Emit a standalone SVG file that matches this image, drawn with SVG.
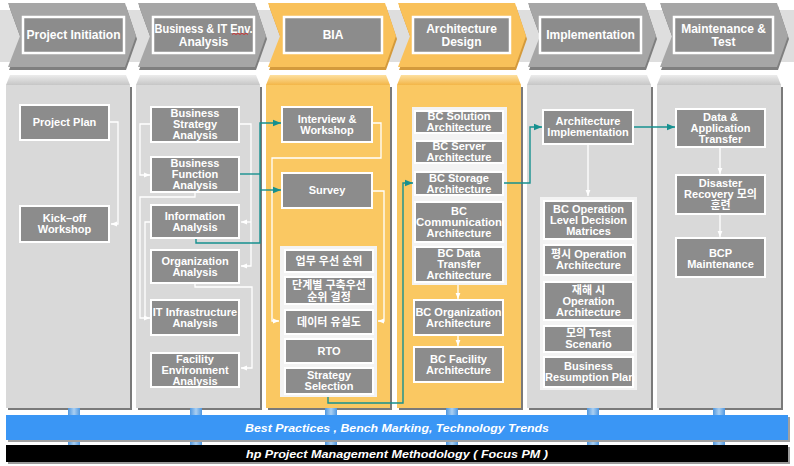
<svg xmlns="http://www.w3.org/2000/svg" width="794" height="466" viewBox="0 0 794 466">
<defs>
<style>
.hdr{font-family:"Liberation Sans","Noto Sans CJK KR",sans-serif;font-size:12px;font-weight:bold;fill:#fff;text-anchor:middle}
.t{font-family:"Liberation Sans","Noto Sans CJK KR",sans-serif;font-size:11px;font-weight:bold;fill:#fff;text-anchor:middle}
.nd{fill:#8c8c8c;stroke:#fff;stroke-width:2}
.hb{fill:#8c8c8c;stroke:#fff;stroke-width:2.5}
.cg{fill:#a6a6a6}
.co{fill:#f9c15a}
.cgs{fill:#7f7f7f}
.cos{fill:#d49a3c}
.pg{fill:#d9d9d9}
.po{fill:#fac862}
.psh{fill:#7a7a7a}
.box{fill:#f3f3f3}
.wl{fill:none;stroke:#fff;stroke-width:1.3}
.tl{fill:none;stroke:#16908f;stroke-width:1.4}
.tab{fill:url(#gtab)}
.band{font-family:"Liberation Sans Narrow","Liberation Sans",sans-serif;font-size:11px;font-style:italic;font-weight:bold;fill:#fff;text-anchor:middle}
</style>
<linearGradient id="gbev" x1="0" y1="0" x2="0" y2="1"><stop offset="0" stop-color="#ececec"/><stop offset="1" stop-color="#c6c6c6"/></linearGradient>
<linearGradient id="obev" x1="0" y1="0" x2="0" y2="1"><stop offset="0" stop-color="#fde0a0"/><stop offset="1" stop-color="#f3b648"/></linearGradient>
<linearGradient id="gtab" x1="0" y1="0" x2="1" y2="0"><stop offset="0" stop-color="#4f97e0"/><stop offset="0.5" stop-color="#a9cff2"/><stop offset="1" stop-color="#4f97e0"/></linearGradient>
<marker id="aw" viewBox="0 0 10 10" refX="10" refY="5" markerWidth="6" markerHeight="6" markerUnits="userSpaceOnUse" orient="auto"><path d="M0,1 L10,5 L0,9 z" fill="#fff"/></marker>
<marker id="at" viewBox="0 0 10 10" refX="10" refY="5" markerWidth="8" markerHeight="8" markerUnits="userSpaceOnUse" orient="auto"><path d="M0,1 L10,5 L0,9 z" fill="#16908f"/></marker>
</defs>
<rect width="794" height="466" fill="#fff"/>
<!-- header band -->
<rect x="0" y="10" width="794" height="52" fill="#dedede"/>

<!-- chevrons -->
<g id="headers">
<g id="h1">
<polygon class="cgs" points="9,6 126,6 137,39 126,70 9,70 21,39"/>
<polygon class="cg" points="8,3 125,3 136,36 125,67 8,67 20,36"/>
<rect class="hb" x="23" y="17" width="101" height="36"/>
<text class="hdr" x="73.5" y="39.2">Project Initiation</text>
</g>
<g id="h2">
<polygon class="cgs" points="139,6 256,6 267,39 256,70 139,70 151,39"/>
<polygon class="cg" points="138,3 255,3 266,36 255,67 138,67 150,36"/>
<rect class="hb" x="153" y="17" width="101" height="36"/>
<text class="hdr" x="203.5" y="32.7" textLength="98" lengthAdjust="spacingAndGlyphs">Business &amp; IT Env.</text>
<text class="hdr" x="203.5" y="45.7">Analysis</text>
<path d="M232,34.5 l2,-1.2 l2,1.2 l2,-1.2 l2,1.2 l2,-1.2 l2,1.2 l2,-1.2 l2,1.2" fill="none" stroke="#e02020" stroke-width="0.8"/>
</g>
<g id="h3">
<polygon class="cos" points="269,6 386,6 397,39 386,70 269,70 281,39"/>
<polygon class="co" points="268,3 385,3 396,36 385,67 268,67 280,36"/>
<rect class="hb" x="284" y="17" width="98" height="36"/>
<text class="hdr" x="333" y="39.2">BIA</text>
</g>
<g id="h4">
<polygon class="cos" points="399,6 516,6 527,39 516,70 399,70 411,39"/>
<polygon class="co" points="398,3 515,3 526,36 515,67 398,67 410,36"/>
<rect class="hb" x="413" y="17" width="97" height="36"/>
<text class="hdr" x="461.5" y="32.7">Architecture</text>
<text class="hdr" x="461.5" y="45.7">Design</text>
</g>
<g id="h5">
<polygon class="cgs" points="529,6 646,6 657,39 646,70 529,70 541,39"/>
<polygon class="cg" points="528,3 645,3 656,36 645,67 528,67 540,36"/>
<rect class="hb" x="540" y="17" width="101" height="36"/>
<text class="hdr" x="590.5" y="39.2">Implementation</text>
</g>
<g id="h6">
<polygon class="cgs" points="661,6 778,6 789,39 778,70 661,70 673,39"/>
<polygon class="cg" points="660,3 777,3 788,36 777,67 660,67 672,36"/>
<rect class="hb" x="674" y="17" width="99" height="36"/>
<text class="hdr" x="723.5" y="32.7">Maintenance &amp;</text>
<text class="hdr" x="723.5" y="45.7">Test</text>
</g>
</g>

<!-- panels -->
<g id="panels">
<rect class="psh" x="8" y="87" width="124" height="323"/>
<rect class="pg" x="6" y="85" width="124" height="323"/>
<polygon points="10,75 126,75 130,85 6,85" fill="url(#gbev)"/>
<rect class="psh" x="138" y="87" width="124" height="323"/>
<rect class="pg" x="136" y="85" width="124" height="323"/>
<polygon points="140,75 256,75 260,85 136,85" fill="url(#gbev)"/>
<rect class="psh" x="268" y="87" width="124" height="323"/>
<rect class="po" x="266" y="85" width="124" height="323"/>
<polygon points="270,75 386,75 390,85 266,85" fill="url(#obev)"/>
<rect class="psh" x="399" y="87" width="124" height="323"/>
<rect class="po" x="397" y="85" width="124" height="323"/>
<polygon points="401,75 517,75 521,85 397,85" fill="url(#obev)"/>
<rect class="psh" x="529" y="87" width="124" height="323"/>
<rect class="pg" x="527" y="85" width="124" height="323"/>
<polygon points="531,75 647,75 651,85 527,85" fill="url(#gbev)"/>
<rect class="psh" x="659" y="87" width="124" height="323"/>
<rect class="pg" x="657" y="85" width="124" height="323"/>
<polygon points="661,75 777,75 781,85 657,85" fill="url(#gbev)"/>
</g>

<!-- containers -->
<rect class="box" x="280" y="246" width="97" height="151"/>
<rect class="box" x="412" y="107" width="95" height="178"/>
<rect class="box" x="540" y="197" width="97" height="193"/>

<!-- connectors -->
<g id="connectors">
<path class="wl" d="M110,122 H118 V224 H111" marker-end="url(#aw)"/>
<path class="wl" d="M151,124 H140 V175 H150" marker-end="url(#aw)"/>
<path class="wl" d="M240,124 H251 V266 H241" marker-end="url(#aw)"/>
<path class="wl" d="M251,222 H241" marker-end="url(#aw)"/>
<path class="wl" d="M195,192 V197 H140 V318 H150" marker-end="url(#aw)"/>
<path class="wl" d="M151,222 H145 V318"/>
<path class="wl" d="M195,283 V287 H252 V368 H241" marker-end="url(#aw)"/>
<path class="wl" d="M372,123 H381 V158 H272 V321 H279" marker-end="url(#aw)"/>
<path class="wl" d="M372,191 H384 V321 H378" marker-end="url(#aw)"/>
<path class="wl" d="M458,285 V299" marker-end="url(#aw)"/>
<path class="wl" d="M458,335 V346" marker-end="url(#aw)"/>
<path class="wl" d="M588,144 V196" marker-end="url(#aw)"/>
<path class="wl" d="M720,147 V174" marker-end="url(#aw)"/>
<path class="wl" d="M720,214 V237" marker-end="url(#aw)"/>
<path class="tl" d="M240,174 H260"/>
<path class="tl" d="M196,238 V243 H260 V123 H281" marker-end="url(#at)"/>
<path class="tl" d="M260,190 H281" marker-end="url(#at)"/>
<path class="tl" d="M328,397 V403 H403 V183 H413" marker-end="url(#at)"/>
<path class="tl" d="M504,183 H530 V127 H542" marker-end="url(#at)"/>
<path class="tl" d="M634,127 H675" marker-end="url(#at)"/>
</g>

<!-- column 1 -->
<g id="n-project-plan"><rect class="nd" x="20" y="105" width="89" height="35"/><text class="t" x="64.5" y="126.3">Project Plan</text></g>
<g id="n-kickoff"><rect class="nd" x="20" y="206" width="89" height="36"/><text class="t" x="64.5" y="222.3">Kick–off</text><text class="t" x="64.5" y="233.3">Workshop</text></g>

<!-- column 2 -->
<g id="n-bsa"><rect class="nd" x="151" y="107" width="88" height="35"/><text class="t" x="195" y="117.3">Business</text><text class="t" x="195" y="128.3">Strategy</text><text class="t" x="195" y="139.3">Analysis</text></g>
<g id="n-bfa"><rect class="nd" x="151" y="157" width="88" height="35"/><text class="t" x="195" y="167.3">Business</text><text class="t" x="195" y="178.3">Function</text><text class="t" x="195" y="189.3">Analysis</text></g>
<g id="n-ia"><rect class="nd" x="151" y="205" width="88" height="33"/><text class="t" x="195" y="219.8">Information</text><text class="t" x="195" y="230.8">Analysis</text></g>
<g id="n-oa"><rect class="nd" x="151" y="250" width="88" height="33"/><text class="t" x="195" y="264.8">Organization</text><text class="t" x="195" y="275.8">Analysis</text></g>
<g id="n-ita"><rect class="nd" x="151" y="300" width="88" height="35"/><text class="t" x="195" y="315.8">IT Infrastructure</text><text class="t" x="195" y="326.8">Analysis</text></g>
<g id="n-fea"><rect class="nd" x="151" y="353" width="88" height="34"/><text class="t" x="195" y="362.8">Facility</text><text class="t" x="195" y="373.8">Environment</text><text class="t" x="195" y="384.8">Analysis</text></g>

<!-- column 3 -->
<g id="n-iw"><rect class="nd" x="282" y="107" width="90" height="35"/><text class="t" x="327" y="122.8">Interview &amp;</text><text class="t" x="327" y="133.8">Workshop</text></g>
<g id="n-survey"><rect class="nd" x="282" y="173" width="90" height="35"/><text class="t" x="327" y="194.3">Survey</text></g>
<g id="n-p1"><rect class="nd" x="285" y="250" width="88" height="22"/><text class="t" x="329" y="264.8">업무 우선 순위</text></g>
<g id="n-p2"><rect class="nd" x="285" y="277" width="88" height="27"/><text class="t" x="329" y="289">단계별 구축우선</text><text class="t" x="329" y="300.5">순위 결정</text></g>
<g id="n-p3"><rect class="nd" x="285" y="310" width="88" height="24"/><text class="t" x="329" y="325.8">데이터 유실도</text></g>
<g id="n-p4"><rect class="nd" x="285" y="339" width="88" height="24"/><text class="t" x="329" y="354.8">RTO</text></g>
<g id="n-p5"><rect class="nd" x="285" y="368" width="88" height="26"/><text class="t" x="329" y="379.3">Strategy</text><text class="t" x="329" y="390.3">Selection</text></g>

<!-- column 4 -->
<g id="n-a1"><rect class="nd" x="415" y="111" width="88" height="22"/><text class="t" x="459" y="120.3">BC Solution</text><text class="t" x="459" y="131.3">Architecture</text></g>
<g id="n-a2"><rect class="nd" x="415" y="141" width="88" height="22"/><text class="t" x="459" y="150.3">BC Server</text><text class="t" x="459" y="161.3">Architecture</text></g>
<g id="n-a3"><rect class="nd" x="415" y="172" width="88" height="23"/><text class="t" x="459" y="181.8">BC Storage</text><text class="t" x="459" y="192.8">Architecture</text></g>
<g id="n-a4"><rect class="nd" x="415" y="202" width="88" height="40"/><text class="t" x="459" y="214.8">BC</text><text class="t" x="459" y="225.8" textLength="86" lengthAdjust="spacingAndGlyphs">Communication</text><text class="t" x="459" y="236.8">Architecture</text></g>
<g id="n-a5"><rect class="nd" x="415" y="247" width="88" height="35"/><text class="t" x="459" y="257.3">BC Data</text><text class="t" x="459" y="268.3">Transfer</text><text class="t" x="459" y="279.3">Architecture</text></g>
<g id="n-a6"><rect class="nd" x="414" y="300" width="89" height="35"/><text class="t" x="458.5" y="315.8">BC Organization</text><text class="t" x="458.5" y="326.8">Architecture</text></g>
<g id="n-a7"><rect class="nd" x="414" y="347" width="89" height="35"/><text class="t" x="458.5" y="362.8">BC Facility</text><text class="t" x="458.5" y="373.8">Architecture</text></g>

<!-- column 5 -->
<g id="n-ai"><rect class="nd" x="543" y="110" width="90" height="34"/><text class="t" x="588" y="125.3">Architecture</text><text class="t" x="588" y="136.3">Implementation</text></g>
<g id="n-o1"><rect class="nd" x="544" y="201" width="89" height="38"/><text class="t" x="588.5" y="212.8">BC Operation</text><text class="t" x="588.5" y="223.8">Level Decision</text><text class="t" x="588.5" y="234.8">Matrices</text></g>
<g id="n-o2"><rect class="nd" x="544" y="245" width="89" height="30"/><text class="t" x="588.5" y="258.3">평시 Operation</text><text class="t" x="588.5" y="269.3">Architecture</text></g>
<g id="n-o3"><rect class="nd" x="544" y="282" width="89" height="38"/><text class="t" x="588.5" y="293.8">재해 시</text><text class="t" x="588.5" y="304.8">Operation</text><text class="t" x="588.5" y="315.8">Architecture</text></g>
<g id="n-o4"><rect class="nd" x="544" y="326" width="89" height="26"/><text class="t" x="588.5" y="337.3">모의 Test</text><text class="t" x="588.5" y="348.3">Scenario</text></g>
<g id="n-o5"><rect class="nd" x="544" y="357" width="89" height="30"/><text class="t" x="588.5" y="370.3">Business</text><text class="t" x="590" y="381.3">Resumption Plan</text></g>

<!-- column 6 -->
<g id="n-m1"><rect class="nd" x="676" y="109" width="89" height="38"/><text class="t" x="720.5" y="120.8">Data &amp;</text><text class="t" x="720.5" y="131.8">Application</text><text class="t" x="720.5" y="142.8">Transfer</text></g>
<g id="n-m2"><rect class="nd" x="676" y="175" width="89" height="39"/><text class="t" x="720.5" y="187.3">Disaster</text><text class="t" x="720.5" y="198.3">Recovery 모의</text><text class="t" x="720.5" y="209.3">훈련</text></g>
<g id="n-m3"><rect class="nd" x="676" y="238" width="89" height="39"/><text class="t" x="720.5" y="256.8">BCP</text><text class="t" x="720.5" y="267.8">Maintenance</text></g>

<!-- bottom bands -->
<g id="tabs">
<rect class="tab" x="68" y="408" width="12" height="8"/><rect class="tab" x="190" y="408" width="12" height="8"/><rect class="tab" x="325" y="408" width="12" height="8"/><rect class="tab" x="446" y="408" width="12" height="8"/><rect class="tab" x="587" y="408" width="12" height="8"/><rect class="tab" x="713" y="408" width="12" height="8"/>
<rect class="tab" x="68" y="439" width="12" height="7"/><rect class="tab" x="190" y="439" width="12" height="7"/><rect class="tab" x="325" y="439" width="12" height="7"/><rect class="tab" x="446" y="439" width="12" height="7"/><rect class="tab" x="587" y="439" width="12" height="7"/><rect class="tab" x="713" y="439" width="12" height="7"/>
</g>
<g id="band-best">
<rect x="8" y="417" width="782" height="25" fill="#a0a0a0"/>
<rect x="6" y="415" width="782" height="25" fill="#3a96f5"/>
<text class="band" x="397" y="432" textLength="304" lengthAdjust="spacingAndGlyphs">Best Practices , Bench Marking, Technology  Trends</text>
</g>
<g id="band-hp">
<rect x="8" y="447" width="782" height="17" fill="#9a9a9a"/>
<rect x="6" y="445" width="782" height="17" fill="#000"/>
<text class="band" x="397" y="457.5" textLength="302" lengthAdjust="spacingAndGlyphs">hp Project Management Methodology ( Focus PM )</text>
</g>
</svg>
